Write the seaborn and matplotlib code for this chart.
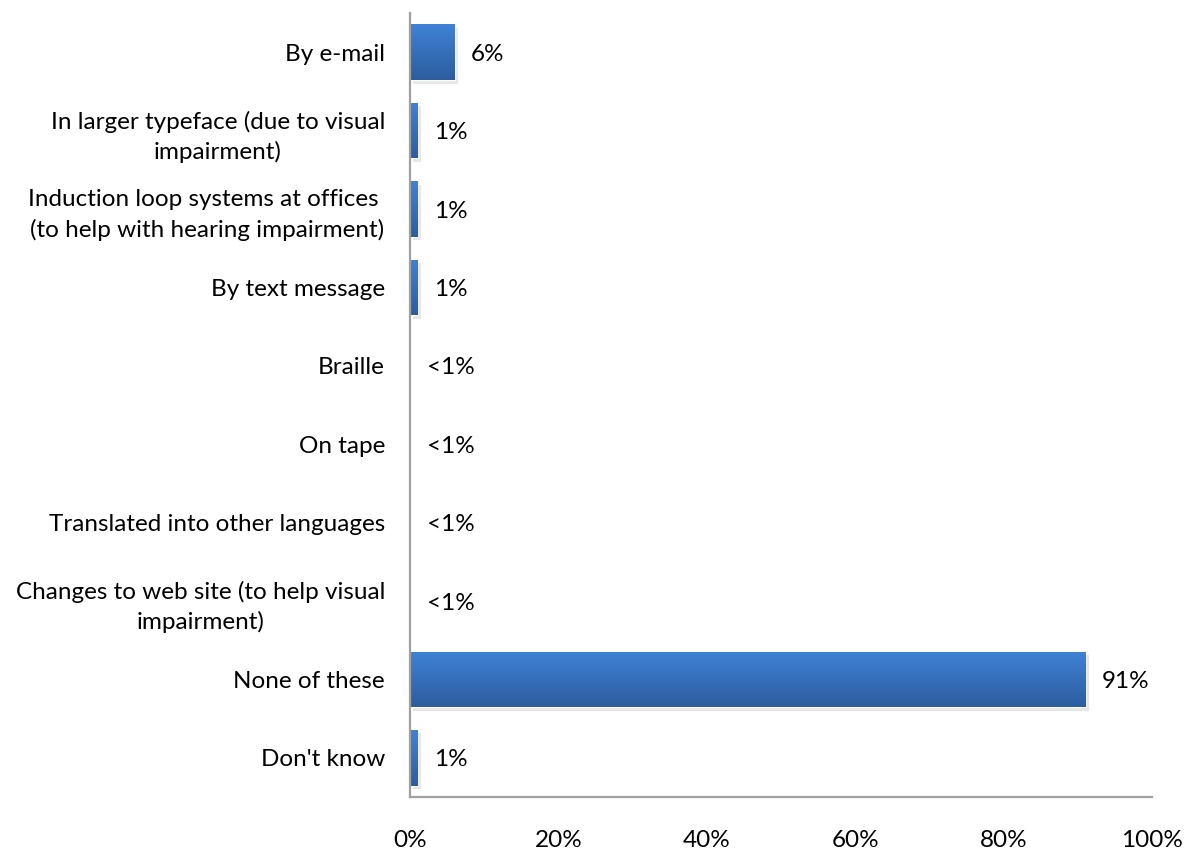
import numpy as np
import pandas as pd
import matplotlib
matplotlib.use("Agg")
import matplotlib.pyplot as plt
import matplotlib.patheffects as pe
from matplotlib.colors import LinearSegmentedColormap
import seaborn as sns

categories = [
    "By e-mail",
    "In larger typeface (due to visual\nimpairment)",
    "Induction loop systems at offices \n(to help with hearing impairment)",
    "By text message",
    "Braille",
    "On tape",
    "Translated into other languages",
    "Changes to web site (to help visual\nimpairment)",
    "None of these",
    "Don't know",
]
values = [6, 1, 1, 1, 0, 0, 0, 0, 91, 1]
value_labels = ["6%", "1%", "1%", "1%", "<1%", "<1%", "<1%", "<1%", "91%", "1%"]
x_ticks = [0, 20, 40, 60, 80, 100]

sns.set_theme(style="white")
plt.rcParams["font.family"] = ["Lato", "DejaVu Sans"]

FS = 17.5

df = pd.DataFrame({"category": categories, "value": values})

fig = plt.figure(figsize=(11.86, 8.52), dpi=100)
ax = fig.add_axes([410 / 1186, 1 - 797 / 852, (1152 - 410) / 1186, (797 - 13) / 852])

sns.barplot(data=df, x="value", y="category", orient="h", color="#3874C4",
            width=0.71, ax=ax, saturation=1)

# vertical gradient and soft drop shadow on each bar
grad = LinearSegmentedColormap.from_list("bar", ["#3F82D6", "#2D5D9E"])
for patch in ax.patches:
    x0, y0 = patch.get_x(), patch.get_y()
    w, h = patch.get_width(), patch.get_height()
    if w <= 0:
        patch.set_visible(False)
        continue
    patch.set_path_effects([pe.SimplePatchShadow(offset=(2.5, -2.5), shadow_rgbFace="#B0B0B0",
                                                 alpha=0.3), pe.Normal()])
    im = ax.imshow(np.linspace(0, 1, 64).reshape(-1, 1), cmap=grad, aspect="auto",
                   extent=[x0, x0 + w, y0 + h, y0], zorder=patch.get_zorder() + 0.1)
    im.set_clip_path(patch)

for i, (v, lab) in enumerate(zip(values, value_labels)):
    ax.annotate(lab, (v, i), xytext=(12, -1.5), textcoords="offset points",
                va="center", ha="left", fontsize=FS, color="#000000")

ax.set_xlim(0, 100)
ax.set_ylim(len(categories) - 0.5, -0.5)
ax.set_xticks(x_ticks)
ax.set_xticklabels([f"{t}%" for t in x_ticks], fontsize=FS, color="#000000")
ax.tick_params(axis="x", pad=24, length=0)
ax.tick_params(axis="y", pad=18, length=0)
ax.set_yticks(range(len(categories)))
ax.set_yticklabels(categories, fontsize=FS, color="#000000", linespacing=1.45)
for t in ax.get_yticklabels():
    t.set_multialignment("center")
ax.set_xlabel("")
ax.set_ylabel("")

# the full axes frame starts slightly above the first bar
ax.spines["left"].set_bounds(len(categories) - 0.5, -0.5)
for side in ["top", "right"]:
    ax.spines[side].set_visible(False)
for side in ["left", "bottom"]:
    ax.spines[side].set_color("#A0A0A0")
    ax.spines[side].set_linewidth(1.6)

fig.savefig("out.png", dpi=100, facecolor="white")
